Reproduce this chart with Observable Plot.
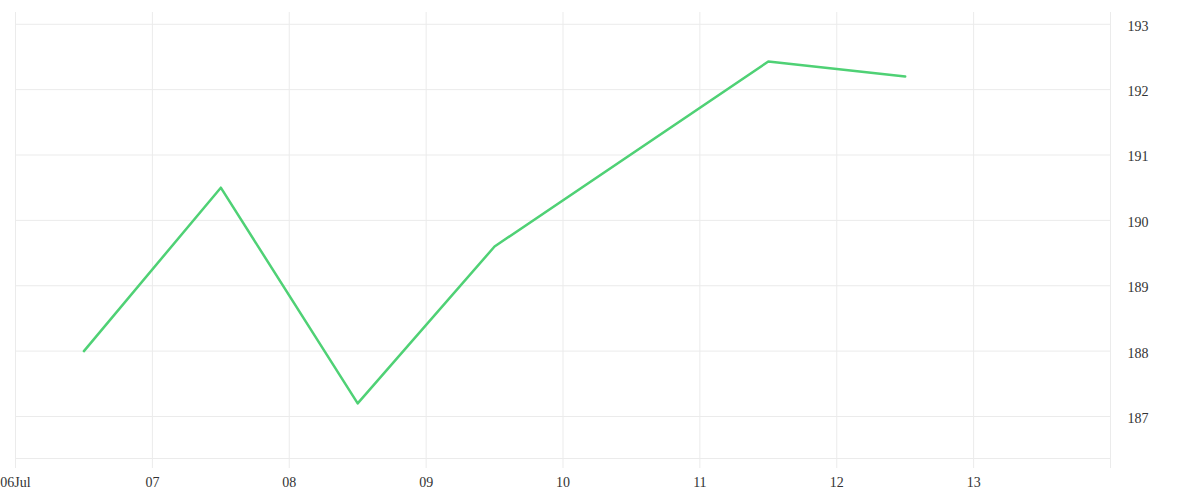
<!DOCTYPE html>
<html>
<head>
<meta charset="utf-8">
<script src="https://cdn.jsdelivr.net/npm/d3@7"></script>
<script src="https://cdn.jsdelivr.net/npm/@observablehq/plot@0.6"></script>
<style>
  html, body { margin: 0; padding: 0; background: #fff; }
  #chart svg { display: block; }
</style>
</head>
<body>
<div id="chart"></div>
<script>
const dates = ["2024-07-06T12:00Z", "2024-07-07T12:00Z", "2024-07-08T12:00Z", "2024-07-09T12:00Z", "2024-07-11T12:00Z", "2024-07-12T12:00Z"];
const prices = [188.0, 190.5, 187.2, 189.6, 192.43, 192.2];
const xTicks = ["2024-07-06", "2024-07-07", "2024-07-08", "2024-07-09", "2024-07-10", "2024-07-11", "2024-07-12", "2024-07-13", "2024-07-14"];
const xTickLabels = ["06Jul", "07", "08", "09", "10", "11", "12", "13", ""];
const yTicks = [187, 188, 189, 190, 191, 192, 193];
const xDomain = ["2024-07-06", "2024-07-14"];
const yDomain = [186.357, 193.18];

const data = dates.map((d, i) => ({date: new Date(d), price: prices[i]}));
const xTickDates = xTicks.map(d => new Date(d + "T00:00Z"));
const labelFor = new Map(xTickDates.map((d, i) => [+d, xTickLabels[i]]));

const grid = "#ebebeb";
const chart = Plot.plot({
  width: 1200,
  height: 500,
  marginLeft: 15,
  marginRight: 90,
  marginTop: 12,
  marginBottom: 42,
  style: {fontFamily: "'Liberation Serif', serif", fontSize: "14px", color: "#333", background: "#fff"},
  x: {type: "utc", domain: xDomain.map(d => new Date(d + "T00:00Z"))},
  y: {domain: yDomain},
  marks: [
    Plot.gridY(yTicks, {stroke: grid, strokeOpacity: 1}),
    Plot.gridX(xTickDates, {stroke: grid, strokeOpacity: 1}),
    Plot.ruleY([yDomain[0]], {stroke: grid, strokeOpacity: 1}),
    Plot.axisX(xTickDates, {anchor: "bottom", tickSize: 10, tickPadding: 9, stroke: grid, strokeOpacity: 1, tickFormat: d => labelFor.get(+d), fill: "#333", label: null}),
    Plot.axisY(yTicks, {anchor: "right", tickSize: 0, tickPadding: 17, dy: 2, fill: "#333", label: null, tickFormat: d3.format("d")}),
    Plot.line(data, {x: "date", y: "price", stroke: "#4fd175", strokeWidth: 2.5})
  ]
});
document.getElementById("chart").appendChild(chart);
</script>
</body>
</html>
